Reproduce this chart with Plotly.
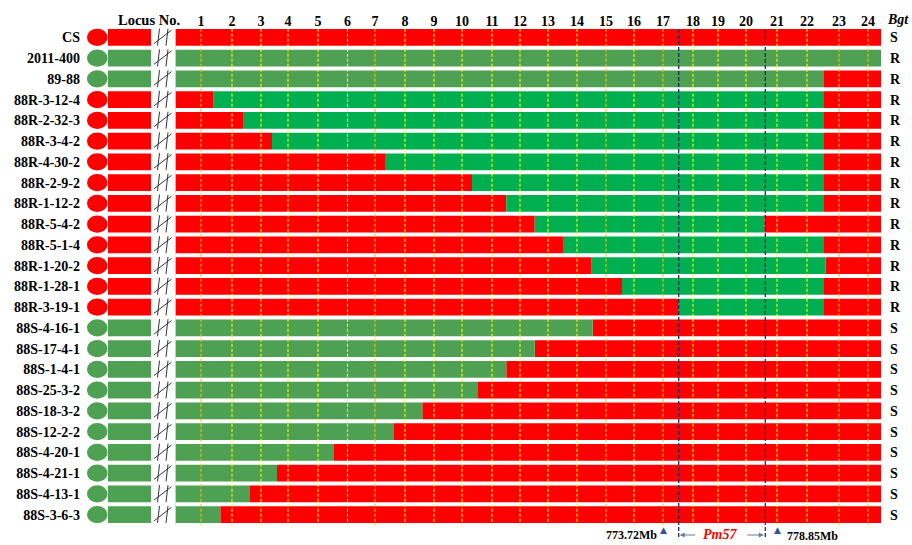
import plotly.graph_objects as go

# ---------------- data ----------------
lines_ = ["CS", "2011-400", "89-88",
          "88R-3-12-4", "88R-2-32-3", "88R-3-4-2", "88R-4-30-2", "88R-2-9-2",
          "88R-1-12-2", "88R-5-4-2", "88R-5-1-4", "88R-1-20-2", "88R-1-28-1",
          "88R-3-19-1",
          "88S-4-16-1", "88S-17-4-1", "88S-1-4-1", "88S-25-3-2", "88S-18-3-2",
          "88S-12-2-2", "88S-4-20-1", "88S-4-21-1", "88S-4-13-1", "88S-3-6-3"]
bgt = ["S", "R", "R"] + ["R"] * 11 + ["S"] * 10
left_geno = ["S", "R", "R"] + ["S"] * 11 + ["R"] * 10   # genotype at the distant locus

locus_no = list(range(1, 25))
# marker positions on the map (arbitrary map units, 0 = start of the region)
locus_pos = [26, 57, 86, 113, 143, 172.5, 200, 230, 259, 287, 317, 345,
             373, 402, 431, 459, 488, 518, 543, 571, 602, 632, 664, 693]
region_end = 706

# 89-88 parent: resistant-type segment ends here
p89_stop = 649
# 88R lines: susceptible -> resistant switch, resistant -> susceptible switch
r_start = [38.7, 68, 97, 210, 297, 331.3, 359.7, 388, 416.7, 447, 503.7]
r_stop = [649, 649, 649, 649, 649, 649, 589.3, 649, 650.7, 649, 649]
# 88S lines: resistant-parent type -> susceptible switch
s_switch = [417.7, 359.7, 331.3, 303, 247.3, 219, 159, 102, 74.3, 45.3]

pm57_left, pm57_right = 503.7, 590.3
flank_loci = [17, 21]
flank_labels = ["773.72Mb", "778.85Mb"]

# ---------------- styles ----------------
RED = "#FF0000"
GREEN_P = "#4EA052"   # parent-type green
GREEN_R = "#00B050"   # recombinant resistant green
FONT = "Liberation Serif"
W, H = 912, 545
ML, MR, MT, MB = 0, 0, 27, 20
X0_PX, X1_PX = 175, 881

segs = {RED: ([], [], []), GREEN_P: ([], [], []), GREEN_R: ([], [], [])}


def add_seg(color, row, a, b):
    ys, bases, lens = segs[color]
    ys.append(row)
    bases.append(a)
    lens.append(b - a)


add_seg(RED, 0, 0, region_end)
add_seg(GREEN_P, 1, 0, region_end)
add_seg(GREEN_P, 2, 0, p89_stop)
add_seg(RED, 2, p89_stop, region_end)
for k, (a, b) in enumerate(zip(r_start, r_stop)):
    row = 3 + k
    add_seg(RED, row, 0, a)
    add_seg(GREEN_R, row, a, b)
    add_seg(RED, row, b, region_end)
for k, a in enumerate(s_switch):
    row = 14 + k
    add_seg(GREEN_P, row, 0, a)
    add_seg(RED, row, a, region_end)

fig = go.Figure()
for color, (ys, bases, lens) in segs.items():
    fig.add_trace(go.Bar(y=ys, x=lens, base=bases, orientation="h",
                         marker=dict(color=color, line=dict(width=0)),
                         width=0.8, hoverinfo="skip"))

n = len(lines_)

# invisible trace for right axis
fig.add_trace(go.Scatter(x=[0], y=[0], yaxis="y2", mode="markers",
                         marker=dict(opacity=0), hoverinfo="skip"))

shapes = []
lt_orange = {1, 7, 15, 17, 23, 24}
# left yellow solid line
shapes.append(dict(type="line", xref="x", yref="y", x0=0, x1=0, y0=-0.42, y1=n - 0.5,
                   line=dict(color="#FFFF00", width=1.5), layer="above"))
for no, p in zip(locus_no, locus_pos):
    c = "#FFC000" if no in lt_orange else "#FFFF00"
    shapes.append(dict(type="line", xref="x", yref="y", x0=p, x1=p, y0=-0.42, y1=n - 0.5,
                       line=dict(color=c, width=1.1, dash="3px,2px"), layer="above"))


def py(px):
    return (H - MB - px) / (H - MT - MB)


for xv in (pm57_left, pm57_right):
    shapes.append(dict(type="line", xref="x", yref="paper", x0=xv, x1=xv,
                       y0=py(537), y1=py(29.5),
                       line=dict(color="#1F2A66", width=1.3, dash="4px,2px"), layer="above"))

for i in range(n):
    c = RED if left_geno[i] == "S" else GREEN_P
    shapes.append(dict(type="circle", xref="paper", yref="y", x0=87 / W, x1=107.5 / W,
                       y0=i - 0.41, y1=i + 0.41, fillcolor=c, line=dict(width=0)))
    shapes.append(dict(type="rect", xref="paper", yref="y", x0=108 / W, x1=151 / W,
                       y0=i - 0.4, y1=i + 0.4, fillcolor=c, line=dict(width=0)))
    for xa, xb in ((157.5, 159.5), (166, 168)):
        shapes.append(dict(type="line", xref="paper", yref="y", x0=xa / W, x1=xb / W,
                           y0=i + 0.4, y1=i - 0.42, line=dict(color="#333333", width=1)))
    shapes.append(dict(type="line", xref="paper", yref="y", x0=154 / W, x1=171.5 / W,
                       y0=i + 0.3, y1=i - 0.35, line=dict(color="#333333", width=1)))

annotations = [
    dict(text="<b>Locus No.</b>", xref="paper", yref="paper", x=149 / W, y=py(19.5),
         xanchor="center", yanchor="middle",
         showarrow=False, font=dict(family=FONT, size=14.5, color="black")),
    dict(text="<b><i>Bgt</i></b>", xref="paper", yref="paper", x=898 / W, y=py(19.5),
         xanchor="center", yanchor="middle",
         showarrow=False, font=dict(family=FONT, size=14, color="black")),
    dict(text="<b>" + flank_labels[0] + "</b>", xref="x", yref="paper",
         x=locus_pos[flank_loci[0] - 1], y=py(535), xanchor="right", yanchor="middle",
         xshift=-4,
         showarrow=False, font=dict(family=FONT, size=12, color="black")),
    dict(text="<b>" + flank_labels[1] + "</b>", xref="x", yref="paper",
         x=locus_pos[flank_loci[1] - 1], y=py(536), xanchor="left", yanchor="middle",
         xshift=8,
         showarrow=False, font=dict(family=FONT, size=12, color="black")),
    dict(text="<b><i>Pm57</i></b>", xref="x", yref="paper",
         x=(pm57_left + pm57_right) / 2 - 2, y=py(534), xanchor="center", yanchor="middle",
         showarrow=False, font=dict(family=FONT, size=14, color="#FF0000")),
    dict(text="", xref="x", yref="paper", x=pm57_left + 1, y=py(535), ax=17, ay=0,
         showarrow=True, arrowhead=2, arrowsize=1, arrowwidth=1, arrowcolor="#6A7A9A"),
    dict(text="", xref="x", yref="paper", x=pm57_right - 1.5, y=py(535), ax=-18, ay=0,
         showarrow=True, arrowhead=2, arrowsize=1, arrowwidth=1, arrowcolor="#6A7A9A"),
]
# flank marker triangles
for li in flank_loci:
    annotations.append(dict(text="▲", xref="x", yref="paper", x=locus_pos[li - 1],
                            y=py(530), xanchor="center", yanchor="middle", showarrow=False,
                            font=dict(family="DejaVu Sans", size=9, color="#2E5597")))

fig.update_layout(
    width=W, height=H, margin=dict(l=ML, r=MR, t=MT, b=MB, autoexpand=False), autosize=False,
    plot_bgcolor="white", paper_bgcolor="white", showlegend=False,
    barmode="overlay",
    font=dict(family=FONT, size=14, color="black"),
    xaxis=dict(domain=[X0_PX / W, X1_PX / W], range=[0, region_end], side="top",
               tickvals=locus_pos, ticktext=["<b>%d</b>" % v for v in locus_no],
               ticks="", showgrid=False, zeroline=False, showline=False, automargin=False,
               ticklabelstandoff=-3,
               tickfont=dict(family=FONT, size=14, color="black"), fixedrange=True),
    yaxis=dict(range=[n - 0.5, -0.5], tickvals=list(range(n)),
               ticktext=["<b>%s</b>" % s for s in lines_], ticks="", automargin=False,
               ticklabelstandoff=94, showgrid=False, zeroline=False, showline=False,
               tickfont=dict(family=FONT, size=14, color="black")),
    yaxis2=dict(range=[n - 0.5, -0.5], overlaying="y", side="right", anchor="x",
                tickvals=list(range(n)), ticktext=["<b>%s</b>" % s for s in bgt],
                ticks="", ticklabelstandoff=8, showgrid=False, zeroline=False,
                automargin=False,
                showline=False, tickfont=dict(family=FONT, size=14, color="black")),
    shapes=shapes, annotations=annotations,
)

fig.write_html("out.html", config={"displayModeBar": False},
               post_script="document.body.style.margin='0';document.body.style.padding='0';")
